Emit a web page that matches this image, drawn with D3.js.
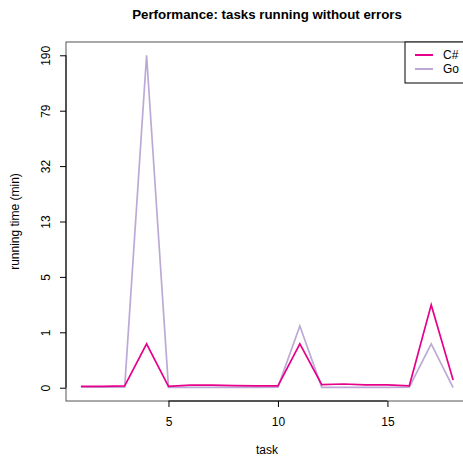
<!DOCTYPE html>
<html>
<head>
<meta charset="utf-8">
<script src="https://cdn.jsdelivr.net/npm/d3@7"></script>
<style>
  body { margin: 0; background: #fff; }
  svg { display: block; font-family: "Liberation Sans", Arial, sans-serif; }
</style>
</head>
<body>
<div id="chart"></div>
<script>
// running time per task, minutes
const tasks = d3.range(1, 19);
const csharp = [0.02, 0.02, 0.03, 1.0, 0.02, 0.04, 0.04, 0.035, 0.03, 0.03, 1.0, 0.05, 0.06, 0.045, 0.045, 0.03, 2.7, 0.13];
const golang = [0.01, 0.01, 0.01, 190, 0.005, 0.005, 0.005, 0.005, 0.005, 0.01, 1.65, 0.005, 0.005, 0.005, 0.005, 0.01, 1.0, 0.0];
const seriesNames = ["C#", "Go"];
const xTicks = [5, 10, 15];

const width = 463, height = 461;
const plotL = 66, plotR = 468, plotT = 42, plotB = 401;

const svg = d3.select("#chart").append("svg")
    .attr("width", width)
    .attr("height", height);

// R style 4% padding on each side
const x = d3.scaleLinear()
    .domain([1 - 0.04 * 17, 18 + 0.04 * 17])
    .range([plotL, plotR]);

const tmax = Math.log1p(d3.max(golang.concat(csharp)));
const y = d3.scaleLinear()
    .domain([-0.04 * tmax, tmax * 1.04])
    .range([plotB, plotT]);

const series = [
    { name: seriesNames[0], values: csharp, color: "#e7008a" },
    { name: seriesNames[1], values: golang, color: "#bcaad6" }
];

const line = d3.line()
    .x((d, i) => x(tasks[i]))
    .y(d => y(Math.log1p(d)));

const plot = svg.append("g");

// draw Go first so C# sits on top
series.slice().reverse().forEach(s => {
    plot.append("path")
        .datum(s.values)
        .attr("fill", "none")
        .attr("stroke", s.color)
        .attr("stroke-width", 1.7)
        .attr("d", line);
});

// box
svg.append("rect")
    .attr("x", plotL).attr("y", plotT)
    .attr("width", plotR - plotL).attr("height", plotB - plotT)
    .attr("fill", "none")
    .attr("stroke", "#555")
    .attr("stroke-width", 1);

// x axis
const xAxis = svg.append("g")
    .attr("transform", `translate(0,${plotB})`)
    .call(d3.axisBottom(x).tickValues(xTicks).tickSize(6).tickPadding(10).tickSizeOuter(0));
xAxis.select(".domain").attr("d", `M${x(xTicks[0])},0H${x(xTicks[xTicks.length - 1])}`);
xAxis.selectAll("text").attr("font-size", 12).attr("fill", "#000").attr("font-family", "Liberation Sans, Arial, sans-serif");

// y axis: evenly spaced ticks on log1p scale
const yTickVals = d3.range(7).map(i => i * tmax / 6);
const yAxis = svg.append("g")
    .attr("transform", `translate(${plotL},0)`)
    .call(d3.axisLeft(y).tickValues(yTickVals).tickSize(6).tickSizeOuter(0)
        .tickFormat(t => Math.round(Math.expm1(t))));
yAxis.select(".domain").attr("d", `M0,${y(yTickVals[0])}V${y(yTickVals[6])}`);
yAxis.selectAll(".tick text")
    .attr("font-size", 12)
    .attr("fill", "#000")
    .attr("font-family", "Liberation Sans, Arial, sans-serif")
    .attr("text-anchor", "middle")
    .attr("x", 0).attr("dy", 0)
    .attr("transform", "translate(-16,0) rotate(-90)");

// title and axis labels
svg.append("text")
    .attr("x", 267).attr("y", 19)
    .attr("text-anchor", "middle")
    .attr("font-size", 13.3)
    .attr("font-weight", "bold")
    .text("Performance: tasks running without errors");

svg.append("text")
    .attr("x", 267).attr("y", 454)
    .attr("text-anchor", "middle")
    .attr("font-size", 12)
    .text("task");

svg.append("text")
    .attr("transform", `translate(19,${(plotT + plotB) / 2}) rotate(-90)`)
    .attr("text-anchor", "middle")
    .attr("font-size", 12)
    .text("running time (min)");

// legend
const lg = svg.append("g").attr("transform", "translate(405,42)");
lg.append("rect")
    .attr("width", 80).attr("height", 41)
    .attr("fill", "#fff").attr("stroke", "#000");
series.forEach((s, i) => {
    lg.append("line")
        .attr("x1", 10).attr("x2", 28)
        .attr("y1", 13 + i * 14).attr("y2", 13 + i * 14)
        .attr("stroke", s.color).attr("stroke-width", 2);
    lg.append("text")
        .attr("x", 38).attr("y", 17 + i * 14)
        .attr("font-size", 12)
        .text(s.name);
});
</script>
</body>
</html>
